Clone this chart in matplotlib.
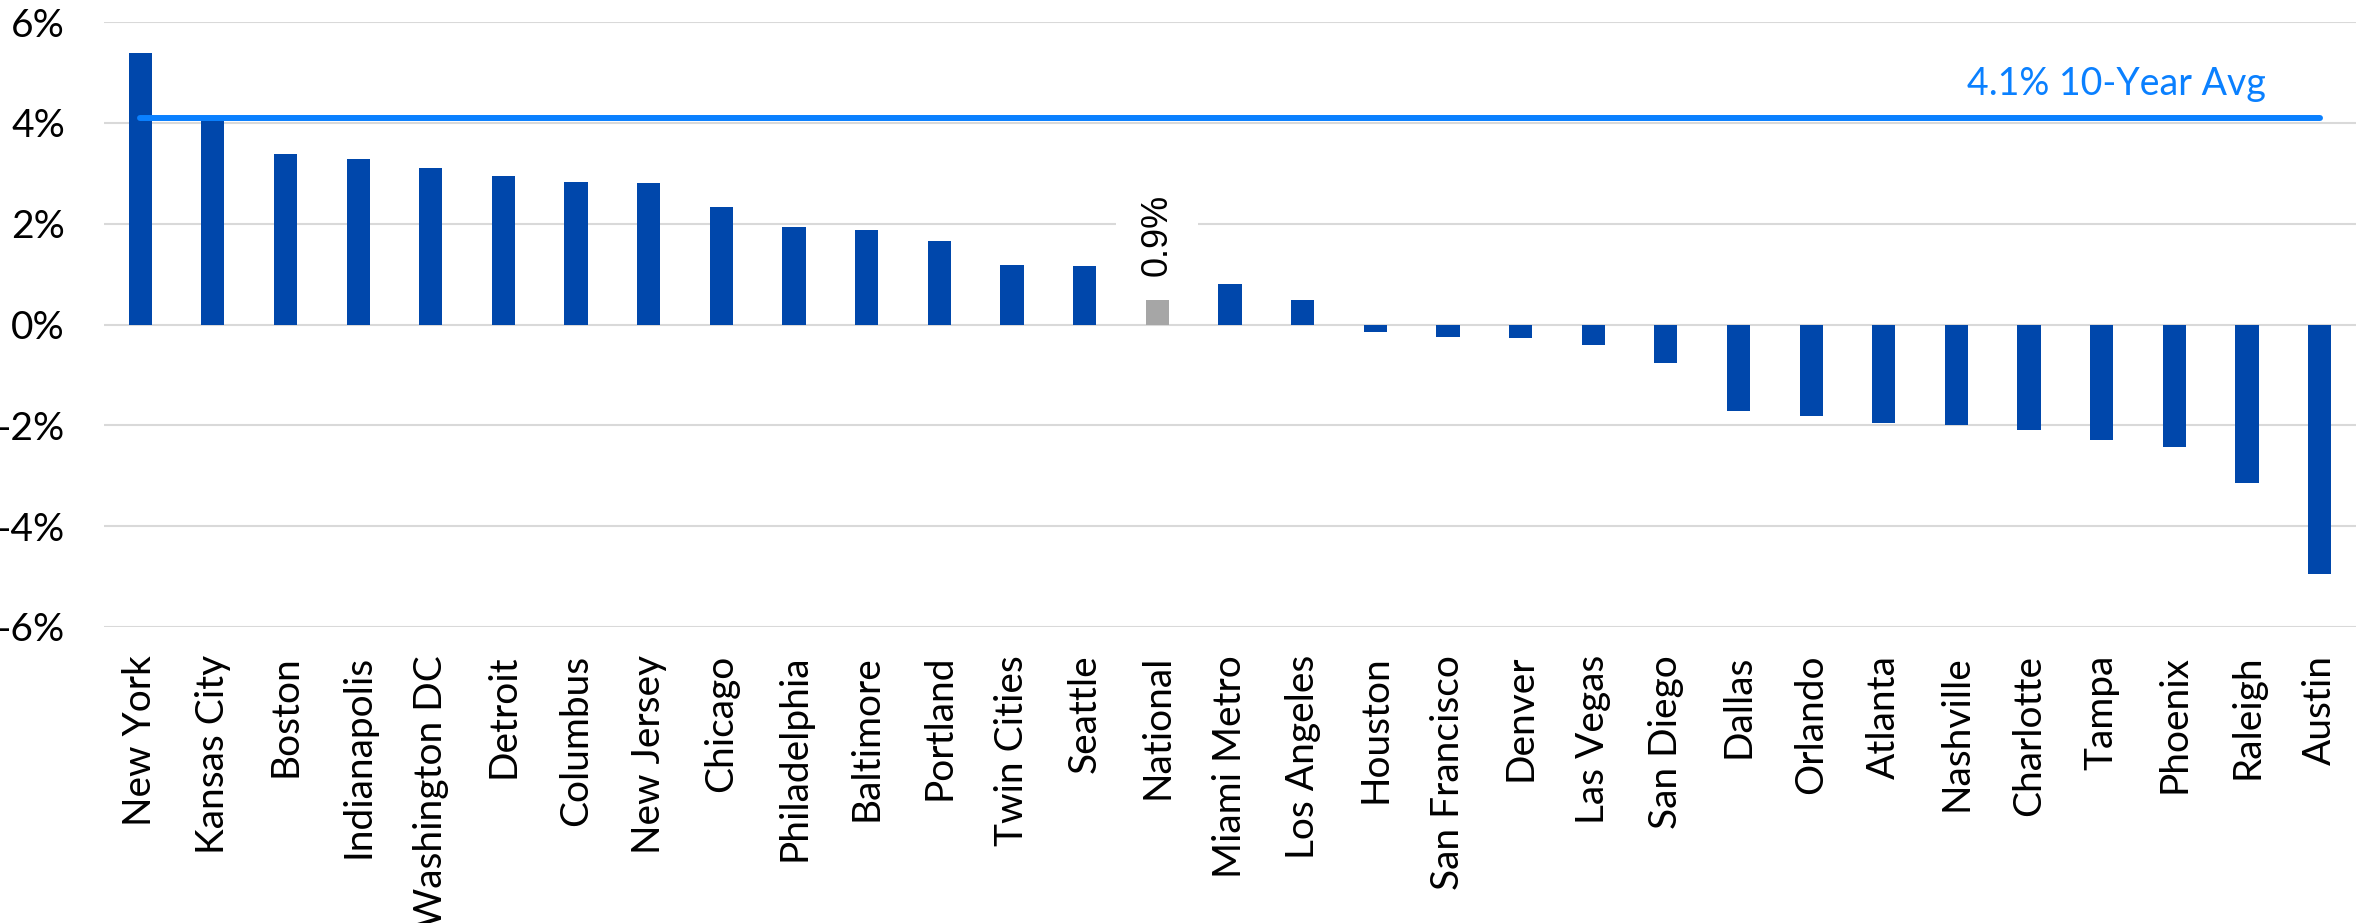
# -*- coding: utf-8 -*-
# Rent growth by metro, with the 10-year national average as a reference line

import matplotlib.pyplot as plt
from matplotlib.ticker import FuncFormatter

cities = ['New York', 'Kansas City', 'Boston', 'Indianapolis', 'Washington DC',
          'Detroit', 'Columbus', 'New Jersey', 'Chicago', 'Philadelphia',
          'Baltimore', 'Portland', 'Twin Cities', 'Seattle', 'National',
          'Miami Metro', 'Los Angeles', 'Houston', 'San Francisco', 'Denver',
          'Las Vegas', 'San Diego', 'Dallas', 'Orlando', 'Atlanta', 'Nashville',
          'Charlotte', 'Tampa', 'Phoenix', 'Raleigh', 'Austin']
growth = [5.38, 4.14, 3.38, 3.29, 3.11,
          2.95, 2.82, 2.81, 2.34, 1.93,
          1.88, 1.66, 1.19, 1.17, 0.9,
          0.80, 0.48, -0.15, -0.24, -0.26,
          -0.40, -0.76, -1.71, -1.82, -1.95, -1.99,
          -2.09, -2.29, -2.43, -3.15, -4.95]
avg_10yr = 4.1
yticks = [-6, -4, -2, 0, 2, 4, 6]

plt.rcParams['font.family'] = ['Lato', 'DejaVu Sans']

fig = plt.figure(figsize=(23.56, 9.23), dpi=100)
ax = fig.add_axes([0.0441, 0.3207, 0.9559, 0.6554])

x = list(range(len(cities)))
colors = ['#A6A6A6' if c == 'National' else '#0047AB' for c in cities]
ax.bar(x, growth, width=0.32, color=colors, zorder=2)

# 10 year average line with its label
ax.plot([x[0], x[-1]], [avg_10yr, avg_10yr], color='#0A80FF', linewidth=4.3,
        solid_capstyle='round', zorder=3)
ax.text(x[-1] - 2.8, avg_10yr + 0.68, f'{avg_10yr:.1f}% 10-Year Avg',
        color='#0A80FF', fontsize=27, ha='center', va='center')

# value label for the national bar (white box sits over the top of the bar)
nat = cities.index('National')
ax.annotate(f'{growth[nat]:.1f}%', (x[nat], growth[nat]), xytext=(0, 2),
            textcoords='offset points', rotation=90, ha='center', va='bottom',
            fontsize=26, family=['Liberation Sans'],
            bbox=dict(facecolor='white', edgecolor='none', pad=17), zorder=4)

ax.set_xlim(-0.5, len(cities) - 0.5)
ax.set_ylim(-6, 6)
ax.set_yticks(yticks)
ax.yaxis.set_major_formatter(FuncFormatter(lambda v, p: f'{v:.0f}%'))
ax.set_xticks(x)
ax.set_xticklabels(cities, rotation=90)

ax.grid(axis='y', color='#D9D9D9', linewidth=1.5, zorder=0)
ax.set_axisbelow(True)
for s in ax.spines.values():
    s.set_visible(False)
ax.tick_params(length=0, labelsize=28)
ax.tick_params(axis='y', pad=28)
ax.tick_params(axis='x', pad=20)

plt.savefig('out.png', dpi=100)
